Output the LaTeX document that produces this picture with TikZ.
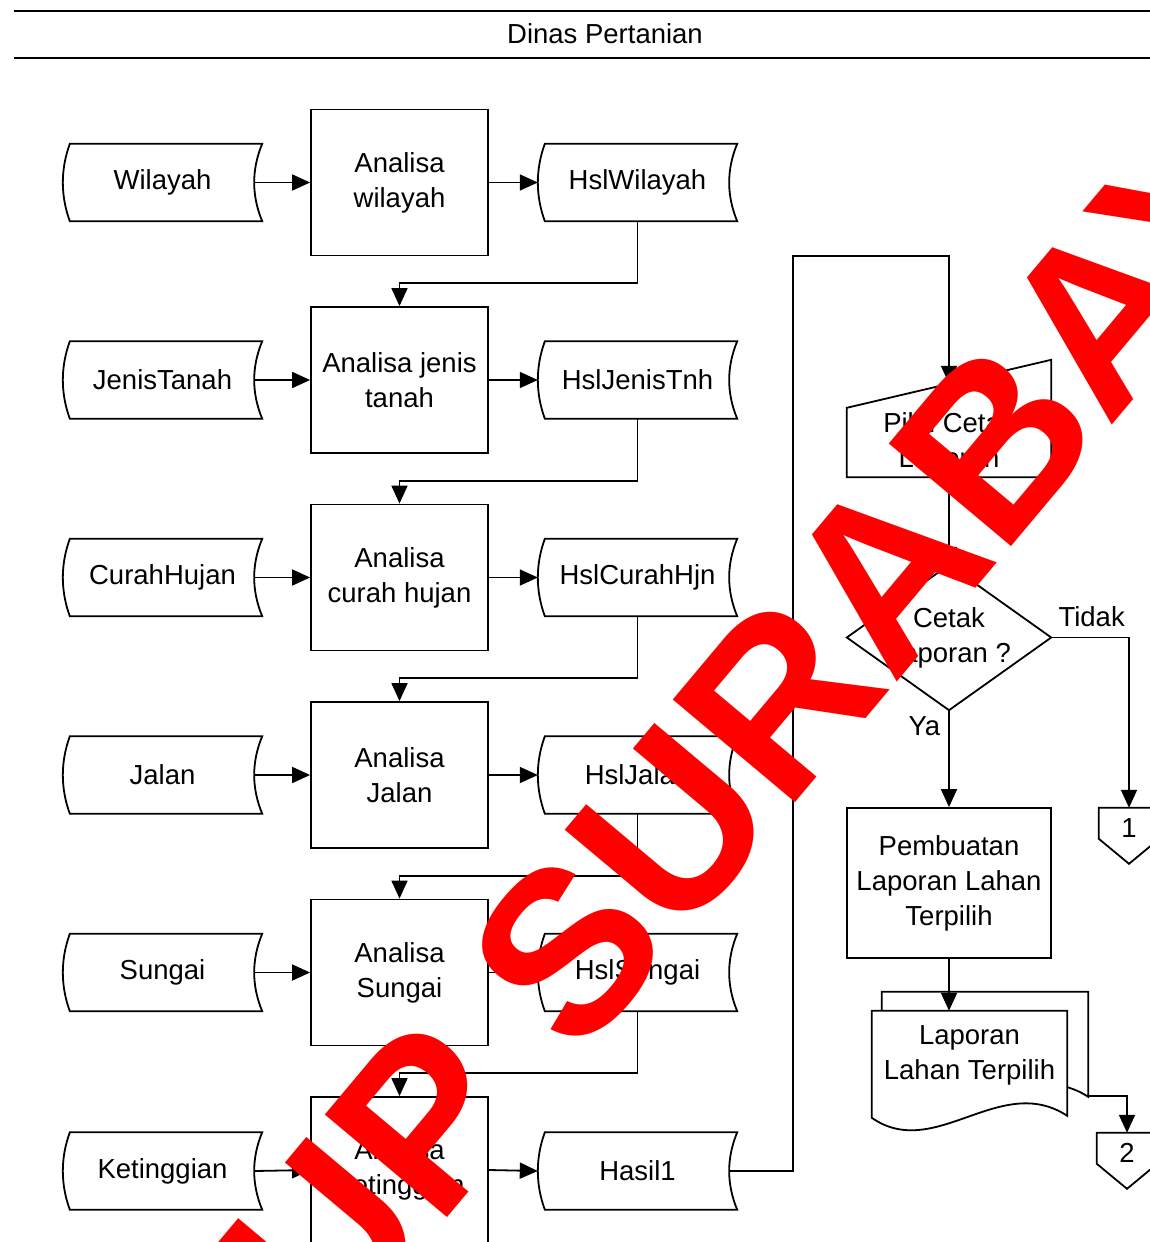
\documentclass[tikz,border=0pt]{standalone}
\usepackage{fontspec}
\setmainfont{Liberation Sans}
\usetikzlibrary{calc,arrows.meta}
\pgfdeclarelayer{background}
\pgfsetlayers{background,main}
\definecolor{stamp}{RGB}{255,0,0}

% outline of a stored-data (tape) node: convex left side, concave right side
\newcommand\tapeoutline[1]{%
  \draw[edge] ($(#1.north west)+(7,0)$) -- (#1.north east)
    .. controls ($(#1.north east)+(-10.7,25.7)$) and ($(#1.south east)+(-10.7,-25.7)$) .. (#1.south east)
    -- ($(#1.south west)+(7,0)$)
    .. controls ($(#1.south west)+(-2.3,-25.7)$) and ($(#1.north west)+(-2.3,25.7)$) .. cycle;}
% outline of an off-page connector
\newcommand\offpage[1]{%
  \draw[edge] (#1.north west) -- (#1.north east) -- ($(#1.north east)+(0,31)$)
    -- ($(#1.north)+(0,56)$) -- ($(#1.north west)+(0,31)$) -- cycle;}

\begin{document}
\begin{tikzpicture}[x=1pt,y=-1pt,
  lbl/.style={font=\fontsize{27.5}{35}\selectfont, align=center, inner sep=0pt},
  tape/.style={lbl, minimum width=199pt, minimum height=77pt},
  proc/.style={lbl, draw, line width=1.8pt, minimum width=177pt, minimum height=146pt},
  edge/.style={line width=1.8pt},
  flow/.style={edge, -{Triangle[length=18pt,width=16pt]}},
  rule/.style={line width=2.6pt}]
\useasboundingbox (0,0) rectangle (1150,1242);

% header
\draw[rule] (14,11) -- (1150,11);
\draw[rule] (14,58) -- (1150,58);
\node[lbl] (title) at (605,34) {Dinas Pertanian};

% analysis chain
\node[tape] (in1) at (162.5,182.5) {Wilayah};
\node[proc] (p1) at (399.5,182.5) {Analisa\\wilayah};
\node[tape] (out1) at (637.5,182.5) {HslWilayah};

\node[tape] (in2) at (162.5,380) {JenisTanah};
\node[proc] (p2) at (399.5,380) {Analisa jenis\\tanah};
\node[tape] (out2) at (637.5,380) {HslJenisTnh};

\node[tape] (in3) at (162.5,577.5) {CurahHujan};
\node[proc] (p3) at (399.5,577.5) {Analisa\\curah hujan};
\node[tape] (out3) at (637.5,577.5) {HslCurahHjn};

\node[tape] (in4) at (162.5,775) {Jalan};
\node[proc] (p4) at (399.5,775) {Analisa\\Jalan};
\node[tape] (out4) at (637.5,775) {HslJalan};

\node[tape] (in5) at (162.5,972.5) {Sungai};
\node[proc] (p5) at (399.5,972.5) {Analisa\\Sungai};
\node[tape] (out5) at (637.5,972.5) {HslSungai};

\node[tape] (in6) at (162.5,1171) {Ketinggian};
\node[proc] (p6) at (399.5,1170) {Analisa\\Ketinggian};
\node[tape] (out6) at (637.5,1171) {Hasil1};

\foreach \n in {in1,out1,in2,out2,in3,out3,in4,out4,in5,out5,in6,out6} {\tapeoutline{\n}}

\foreach \i in {1,...,6} {
  \draw[flow] ($(in\i.east)+(-8,0)$) -- (p\i.west);
  \draw[flow] (p\i.east) -- (out\i.west);
}
\foreach \i/\j in {1/2,2/3,3/4,4/5,5/6} {
  \draw[flow] (out\i.south) -- ++(0,62) -| (p\j.north);
}

% report branch
\node[lbl, minimum width=204pt, minimum height=69pt] (mi) at (949,442.5) {Pilih Cetak\\Laporan};
\draw[edge] (mi.south west) -- (mi.north west) -- ($(mi.north east)+(0,-48)$) -- (mi.south east) -- cycle;
\coordinate (mitop) at ($(mi.north)+(0,-24)$);
\coordinate (bendA) at (793,256);
\draw[flow] ($(out6.east)+(-8,0)$) -| (bendA) -| (mitop);

\node[lbl, minimum width=204pt, minimum height=145pt] (dec) at (949,637.5) {Cetak\\Laporan ?};
\draw[edge] (dec.north) -- (dec.east) -- (dec.south) -- (dec.west) -- cycle;
\draw[flow] (mi.south) -- (dec.north);

\node[lbl, minimum width=60pt, minimum height=40pt] (c1) at (1129,828) {1};
\offpage{c1}
\draw[flow] (dec.east) -| (c1.north) node[lbl, pos=0.26, above=10pt] {Tidak};

\node[proc, minimum width=204pt, minimum height=150pt] (pb) at (949,883) {Pembuatan\\Laporan Lahan\\Terpilih};
\draw[flow] (dec.south) -- (pb.north) node[lbl, pos=0, anchor=north east, xshift=-8pt, yshift=-5pt] {Ya};

\node[lbl, minimum width=195pt, minimum height=89pt] (doc) at (969.5,1055.5) {Laporan\\Lahan Terpilih};
\begin{pgfonlayer}{background}
  \draw[edge, fill=white] ($(doc.north west)+(10,-19)$) -- ($(doc.north east)+(21,-19)$) -- ($(doc.north east)+(21,86)$)
    .. controls ($(doc.north east)+(-46,42)$) and ($(doc.north west)+(73,132)$) .. ($(doc.north west)+(10,88)$) -- cycle;
  \draw[edge, fill=white] (doc.north west) -- (doc.north east) -- ($(doc.north east)+(0,105)$)
    .. controls ($(doc.north east)+(-67,61)$) and ($(doc.north west)+(63,151)$) .. ($(doc.north west)+(0,107)$) -- cycle;
\end{pgfonlayer}
\draw[flow] (pb.south) -- (pb.south |- doc.north);

\node[lbl, minimum width=60pt, minimum height=40pt] (c2) at (1127,1153) {2};
\offpage{c2}
\coordinate (docout) at ($(doc.north east)+(21,85)$);
\draw[flow] (docout) -| (c2.north);

% red stamp across the sheet
\begin{scope}
  \clip (0,0) rectangle (1150,1242);
  \node[anchor=base west, rotate=50, inner sep=0pt, text=stamp,
        font=\fontsize{232}{232}\selectfont\bfseries] (stamptext) at (330,1358) {UP SURABAYA};
\end{scope}
\end{tikzpicture}
\end{document}
